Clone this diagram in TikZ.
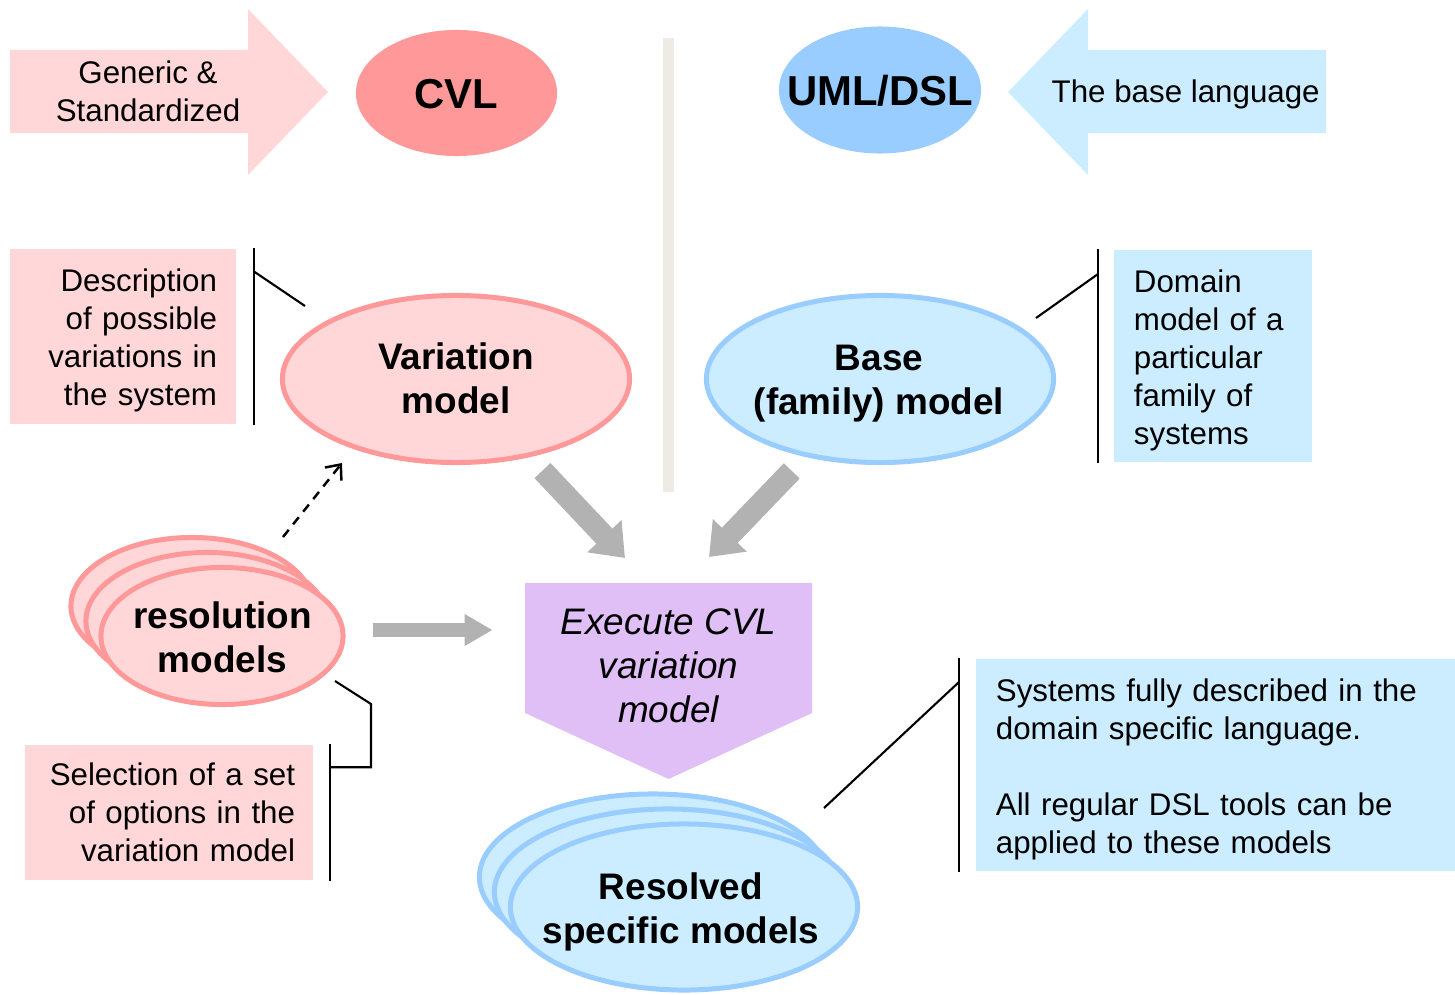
\documentclass[tikz,border=0pt]{standalone}
\usepackage{fontspec}
\setmainfont{Liberation Sans}
\usetikzlibrary{shapes.geometric,arrows.meta}

\definecolor{pinklight}{RGB}{255,215,217}
\definecolor{salmon}{RGB}{255,153,153}
\definecolor{bluelight}{RGB}{204,236,255}
\definecolor{bluemid}{RGB}{153,204,255}
\definecolor{lilac}{RGB}{224,191,247}
\definecolor{arrowgray}{RGB}{178,178,178}
\definecolor{divider}{RGB}{237,235,227}

\newcommand{\plainsize}{\fontsize{8.9}{10.8}\selectfont}
\newcommand{\boldsize}{\fontsize{10.5}{12.5}\selectfont\bfseries}
\newcommand{\bigsize}{\fontsize{11.9}{14}\selectfont\bfseries}

\begin{document}
\begin{tikzpicture}[x=0.01cm, y=-0.01cm,
  txt/.style={inner sep=0pt, font=\plainsize, align=center},
  boldtxt/.style={inner sep=0pt, font=\boldsize, align=center},
  pinkbox/.style={rectangle, fill=pinklight, font=\plainsize, align=right},
  bluebox/.style={rectangle, fill=bluelight, font=\plainsize, align=left},
  lowtext/.style={execute at begin node={\rule{0pt}{0.31cm}}},
  pinkell/.style={ellipse, draw=salmon, fill=pinklight, line width=0.05cm, inner sep=0pt},
  blueell/.style={ellipse, draw=bluemid, fill=bluelight, line width=0.05cm, inner sep=0pt},
  callout/.style={black, line width=0.6pt},
  fatarrow/.style={arrowgray, line width=2.2mm, -{Triangle[length=3mm, width=4.5mm]}},
  thinarrow/.style={arrowgray, line width=1.4mm, -{Triangle[length=2.8mm, width=3mm]}},
  dasharrow/.style={black, line width=0.7pt, dash pattern=on 2.6pt off 2pt, -{Straight Barb[length=3.5pt, width=6pt]}}
]
\useasboundingbox (0,0) rectangle (1455,994);

% Language arrows (top row)
\fill[pinklight] (10,50) -- (248,50) -- (248,9) -- (328,92) -- (248,175) -- (248,133) -- (10,133) -- cycle;
\fill[bluelight] (1326,50) -- (1088,50) -- (1088,9) -- (1008,92) -- (1088,175) -- (1088,133) -- (1326,133) -- cycle;
\node[txt] (generic) at (148,91.5) {Generic \&\\Standardized};
\node[txt, anchor=west] (baselang) at (1051,94) {The base language};

% Language ellipses
\node[ellipse, fill=salmon, inner sep=0pt, minimum width=2.01cm, minimum height=1.26cm] (cvl) at (456.5,93) {};
\node[txt, font=\bigsize] (cvltxt) at (456.5,94) {CVL};
\node[ellipse, fill=bluemid, inner sep=0pt, minimum width=2.02cm, minimum height=1.27cm] (uml) at (880,90) {};
\node[txt, font=\bigsize] (umltxt) at (880,91) {UML/DSL};

% Divider
\draw[divider, line width=0.11cm] (668.5,38) -- (668.5,492);

% Variation and base models
\node[pinkell, minimum width=3.47cm, minimum height=1.67cm] (vm) at (456,379) {};
\node[boldtxt] (vmtxt) at (456,378.5) {Variation\\model};
\node[blueell, minimum width=3.47cm, minimum height=1.67cm] (bm) at (880,379) {};
\node[boldtxt] (bmtxt) at (879,383.5) {Base\\(family) model};

% Description boxes
\node[pinkbox, lowtext, inner xsep=0.19cm, text width=1.88cm, minimum height=1.73cm] (descr) at (123,336.5)
  {Description\\of possible\\variations in\\the system};
\node[bluebox, lowtext, inner xsep=0.2cm, text width=1.58cm, minimum height=2.12cm] (dom) at (1213,356)
  {Domain\\model of a\\particular\\family of\\systems};

\coordinate (vmPt) at (305,306);
\coordinate (bmPt) at (1036,318);
\draw[callout] ([xshift=0.17cm]descr.north east) -- ([xshift=0.17cm]descr.south east);
\draw[callout] ([xshift=0.17cm, yshift=-0.23cm]descr.north east) -- (vmPt);
\draw[callout] ([xshift=-0.15cm]dom.north west) -- ([xshift=-0.15cm]dom.south west);
\draw[callout] ([xshift=-0.15cm, yshift=-0.25cm]dom.north west) -- (bmPt);

% Execute step
\fill[lilac] (525,583) -- (812,583) -- (812,713) -- (668.5,779) -- (525,713) -- cycle;
\node[txt, font=\boldsize\mdseries\itshape] (exec) at (668.5,666) {Execute CVL\\variation\\model};
\coordinate (inL) at (625,558);
\coordinate (inR) at (709,557);
\draw[fatarrow, shorten <=0.185cm] (vm) -- (inL);
\draw[fatarrow, shorten <=0.194cm] (bm) -- (inR);

% Resolution models
\node[pinkell, minimum width=2.42cm, minimum height=1.37cm] (res3) at (192,606) {};
\node[pinkell, minimum width=2.42cm, minimum height=1.37cm] (res2) at (207,621) {};
\node[pinkell, minimum width=2.42cm, minimum height=1.37cm] (res) at (222,636) {};
\node[boldtxt] (restxt) at (222.5,637) {resolution\\models};
\draw[thinarrow] ([shift={(27,-6)}]res.east) -- ++(120,0);

\coordinate (dashFrom) at (283,537);
\coordinate (dashTo) at (342,463);
\draw[dasharrow] (dashFrom) -- (dashTo);

\node[pinkbox, inner xsep=0.18cm, text width=2.52cm, minimum height=1.35cm] (sel) at (169,812.5)
  {Selection of a set\\of options in the\\variation model};
\coordinate (resPt) at (335,681);
\draw[callout] ([xshift=0.165cm]sel.north east) -- ([xshift=0.165cm]sel.south east);
\draw[callout] (resPt) -- ++(36,23) |- ([xshift=0.165cm, yshift=-0.23cm]sel.north east);

% Resolved models
\node[blueell, minimum width=3.47cm, minimum height=1.66cm] (rsm3) at (653,877) {};
\node[blueell, minimum width=3.47cm, minimum height=1.66cm] (rsm2) at (668,892) {};
\node[blueell, minimum width=3.47cm, minimum height=1.66cm] (rsm) at (684,907) {};
\node[boldtxt] (rsmtxt) at (681,912) {Resolved\\specific models};

\node[bluebox, lowtext, inner xsep=0.2cm, text width=4.39cm, minimum height=2.10cm] (sys) at (1215.5,765)
  {Systems fully described in the\\domain specific language.\\[10.8pt]All regular DSL tools can be\\applied to these models};
\coordinate (rsmPt) at (824,808);
\draw[callout] ([xshift=-0.16cm]sys.north west) -- ([xshift=-0.16cm]sys.south west);
\draw[callout] ([xshift=-0.16cm, yshift=-0.24cm]sys.north west) -- (rsmPt);

\end{tikzpicture}
\end{document}
